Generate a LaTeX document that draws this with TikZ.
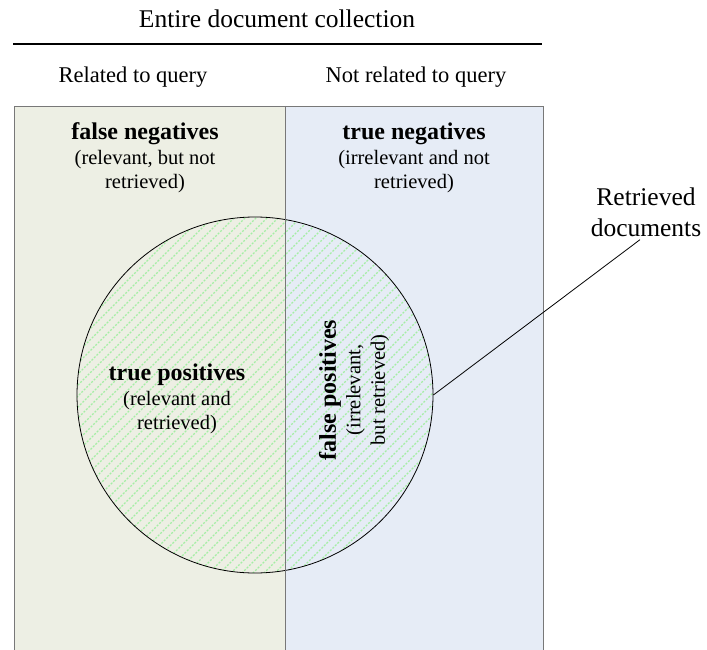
\documentclass[tikz,border=0pt]{standalone}
\usepackage{fontspec}
\setmainfont{Liberation Serif}
\definecolor{relfill}{RGB}{237,239,228}
\definecolor{nrelfill}{RGB}{230,236,246}
\definecolor{boxline}{RGB}{120,120,120}
\definecolor{hatch}{RGB}{165,238,165}
\newcommand\boldlab[1]{{\fontsize{24}{26}\selectfont\bfseries #1}}
\begin{document}
\begin{tikzpicture}[x=1pt,y=-1pt,
  region/.style={draw=boxline,line width=1pt,minimum width=#1,minimum height=545pt,inner sep=0pt,anchor=north west},
  head/.style={font=\fontsize{22.5}{26}\selectfont,inner sep=0pt},
  lab/.style={font=\fontsize{20.5}{24.5}\selectfont,align=center,inner sep=0pt}]
\useasboundingbox (0,0) rectangle (707,650);
% regions
\node[region=271pt,fill=relfill] (rel) at (13.5,106) {};
\node[region=258pt,fill=nrelfill] (nrel) at (284.5,106) {};
% hatched circle
\begin{scope}
  \clip (255,395) circle (178);
  \foreach \i in {-60,...,60}
    \draw[hatch,line width=1.2pt,dash pattern=on 2pt off 1.5pt] (255+\i*11-250,395+250) -- (255+\i*11+250,395-250);
\end{scope}
\node[draw=black,line width=0.8pt,circle,minimum size=356pt,inner sep=0pt] (ret) at (255,395) {};
\draw[boxline,line width=1pt] (rel.north east) -- (rel.south east);
% headings
\node[head,font=\fontsize{25.5}{28}\selectfont] (all) at (277,19) {Entire document collection};
\coordinate (tl) at (13,44.5);
\coordinate (tr) at (542,44.5);
\draw[line width=2pt] (tl) -- (tr);
\node[head] (relq) at (133,77) {Related to query};
\node[head] (nrelq) at (416,77) {Not related to query};
% labels
\node[lab] (fn) at (145,158) {\boldlab{false negatives}\\(relevant, but not\\retrieved)};
\node[lab] (tn) at (414,158) {\boldlab{true negatives}\\(irrelevant and not\\retrieved)};
\node[lab] (tp) at (177,399) {\boldlab{true positives}\\(relevant and\\retrieved)};
\node[lab,rotate=90] (fp) at (354,390) {\boldlab{false positives}\\(irrelevant,\\but retrieved)};
\node[lab,font=\fontsize{25.5}{31}\selectfont] (rd) at (646,212) {Retrieved\\documents};
\draw[line width=0.8pt] (ret.east) -- ([xshift=-6pt,yshift=-3pt]rd.south);
\end{tikzpicture}
\end{document}
